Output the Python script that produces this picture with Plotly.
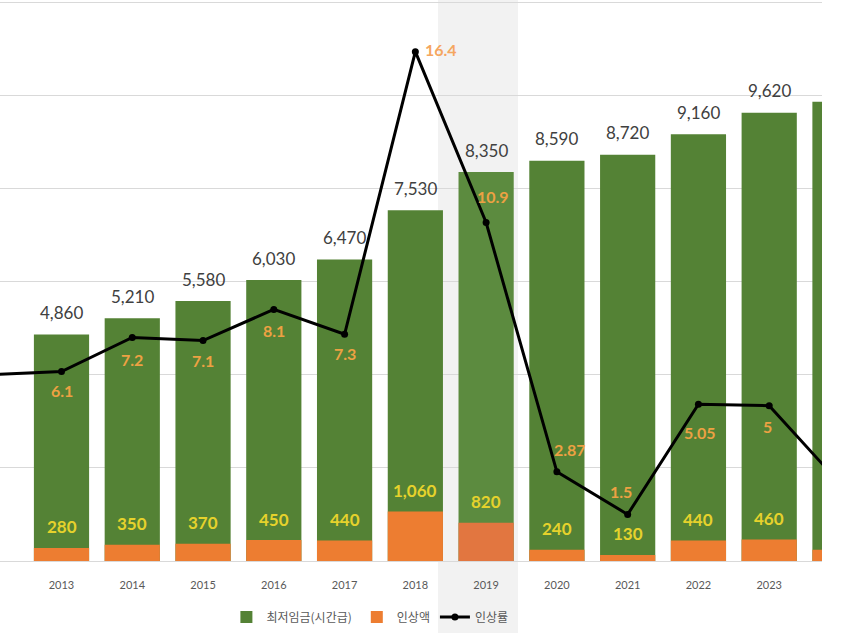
import plotly.graph_objects as go

# ---- data ----
bar_years = [2013, 2014, 2015, 2016, 2017, 2018, 2019, 2020, 2021, 2022, 2023, 2024]
min_wage = [4860, 5210, 5580, 6030, 6470, 7530, 8350, 8590, 8720, 9160, 9620, 9860]
increase = [280, 350, 370, 450, 440, 1060, 820, 240, 130, 440, 460, 240]
rate_years = [2012, 2013, 2014, 2015, 2016, 2017, 2018, 2019, 2020, 2021, 2022, 2023, 2024]
rate = [6.0, 6.1, 7.2, 7.1, 8.1, 7.3, 16.4, 10.9, 2.87, 1.5, 5.05, 5, 2.5]
rate_text = ["6.0", "6.1", "7.2", "7.1", "8.1", "7.3", "16.4", "10.9", "2.87", "1.5", "5.05", "5", "2.5"]
tick_years = [2013, 2014, 2015, 2016, 2017, 2018, 2019, 2020, 2021, 2022, 2023]
series_names = ["최저임금(시간급)", "인상액", "인상률"]

# ---- styles ----
GREEN = "#548235"
ORANGE = "#ED7D31"
green_cols = [GREEN if y != 2019 else "#5C8B3F" for y in bar_years]
orange_cols = [ORANGE if y != 2019 else "#E27640" for y in bar_years]
NUM_FONT = "Lato, 'Noto Sans', sans-serif"
KR_FONT = "'Noto Sans CJK KR', sans-serif"
# label offsets for the rate labels (xshift, yshift, xanchor), one per rate point
rate_label_pos = [
    (0, -19, "center"), (0, -19, "center"), (0, -22, "center"), (0, -20, "center"),
    (0, -21, "center"), (0, -19, "center"), (8, 2, "left"), (7, 26, "center"),
    (13, 22, "center"), (-7, 23, "center"), (2, -28, "center"), (-2, -21, "center"),
    (0, -20, "center"),
]

fig = go.Figure()
fig.add_trace(go.Bar(x=bar_years, y=min_wage, name=series_names[0],
                     marker=dict(color=green_cols, line=dict(width=0)), width=0.78))
fig.add_trace(go.Bar(x=bar_years, y=increase, name=series_names[1],
                     marker=dict(color=orange_cols, line=dict(width=0)), width=0.78))
fig.add_trace(go.Scatter(x=rate_years, y=rate, name=series_names[2], yaxis="y2",
                         mode="lines+markers",
                         line=dict(color="black", width=3),
                         marker=dict(color="black", size=7, symbol="circle")))

annotations = []
for yr, w in zip(bar_years, min_wage):
    annotations.append(dict(x=yr, y=w, xref="x", yref="y", text=f"{w:,}",
                            showarrow=False, yanchor="middle", yshift=22,
                            font=dict(family=NUM_FONT, size=17, color="#404040")))
for yr, inc in zip(bar_years, increase):
    annotations.append(dict(x=yr, y=inc, xref="x", yref="y", text=f"{inc:,}",
                            showarrow=False, yanchor="middle", yshift=21,
                            font=dict(family=NUM_FONT, size=17, color="#E6D22C", weight="bold")))
for yr, r, t, (dx, dy, xa) in zip(rate_years, rate, rate_text, rate_label_pos):
    col = "#F5A660" if yr == 2018 else "#EDA143"
    annotations.append(dict(x=yr, y=r, xref="x", yref="y2", text=t,
                            showarrow=False, yanchor="middle", xanchor=xa,
                            xshift=dx, yshift=dy,
                            font=dict(family=NUM_FONT, size=16, color=col, weight="bold")))

fig.update_layout(
    width=850, height=633,
    margin=dict(l=0, r=28, t=0, b=72),
    barmode="overlay",
    plot_bgcolor="white", paper_bgcolor="white",
    showlegend=True,
    legend=dict(orientation="h", x=0.45, xanchor="center", y=-0.1, yanchor="middle",
                font=dict(family=KR_FONT, size=12, color="#595959"),
                itemwidth=30, bgcolor="rgba(0,0,0,0)"),
    xaxis=dict(range=[2012.131, 2023.746], tickmode="array", tickvals=tick_years,
               ticktext=[str(y) for y in tick_years], showgrid=False,
               showline=True, linecolor="#D9D9D9", linewidth=1,
               ticks="", ticklabelstandoff=14,
               tickfont=dict(family=NUM_FONT, size=11, color="#595959")),
    yaxis=dict(range=[0, 12043], tick0=0, dtick=2000, showgrid=True, gridcolor="#D9D9D9",
               gridwidth=1, showticklabels=False, zeroline=False),
    yaxis2=dict(range=[0, 18.064], overlaying="y", side="right", showgrid=False,
                showticklabels=False, zeroline=False),
    shapes=[dict(type="rect", xref="x", yref="paper", x0=2018.32, x1=2019.45,
                 y0=-0.13, y1=1.01, fillcolor="#F2F2F2", line=dict(width=0),
                 layer="below")],
    annotations=annotations,
)

fig.write_html("out.html", config={"displayModeBar": False},
               post_script="document.body.style.margin='0';")
